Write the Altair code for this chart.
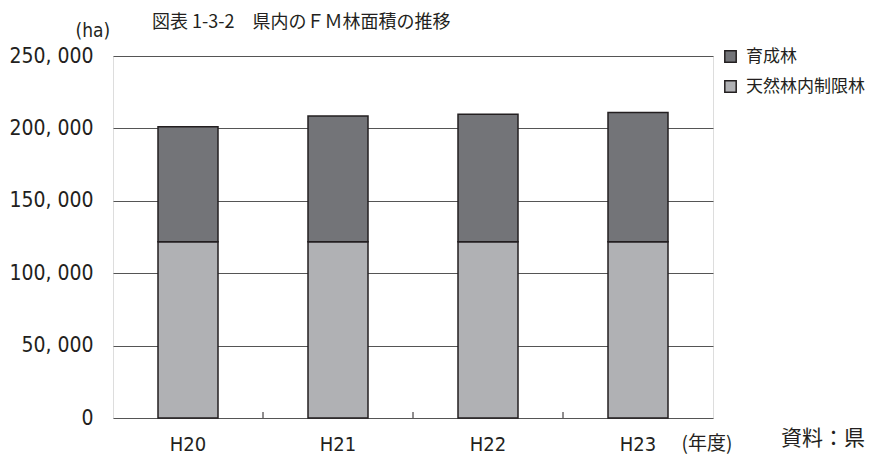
import altair as alt
import pandas as pd

years = ["H20", "H21", "H22", "H23"]
natural = [121700, 121700, 121700, 121700]      # 天然林内制限林
planted = [79500, 86900, 88000, 89200]          # 育成林
series_names = ["育成林", "天然林内制限林"]
colors = ["#737478", "#b0b1b4"]
y_ticks = [0, 50000, 100000, 150000, 200000, 250000]
title_text = "図表 1-3-2　県内のＦＭ林面積の推移"
source_text = "資料：県"

rows = []
for i, yv in enumerate(years):
    rows.append({"year": yv, "kind": "天然林内制限林", "value": natural[i], "ord": 0})
    rows.append({"year": yv, "kind": "育成林", "value": planted[i], "ord": 1})
df = pd.DataFrame(rows)
tick_df = pd.DataFrame({"year": years[:-1]})

NUM_FONT = "Liberation Sans Narrow, DejaVu Sans Condensed, Roboto Condensed, Noto Sans CJK JP"
JP_FONT = "Noto Sans CJK JP"

x_enc = alt.X("year:N", sort=years,
              scale=alt.Scale(paddingInner=0.6, paddingOuter=0.3),
              axis=alt.Axis(title="(年度)", labelAngle=0, ticks=False, domain=False,
                            labelFont=NUM_FONT, labelFontSize=20, labelColor="#231f20",
                            labelPadding=16, titleFont=JP_FONT, titleFontSize=19,
                            titleFontWeight="normal", titleColor="#231f20",
                            titleAnchor="start", titleAlign="left", titleX=568, titleY=31,
                            titleBaseline="alphabetic", grid=False))

bars = alt.Chart(df).mark_bar(stroke="#231f20", strokeWidth=1.5).encode(
    x=x_enc,
    y=alt.Y("value:Q", stack="zero",
            scale=alt.Scale(domain=[0, 250000], nice=False),
            axis=alt.Axis(values=y_ticks, title="(ha)", titleAngle=0,
                          titleX=-38, titleY=-20, titleAlign="left",
                          titleBaseline="alphabetic", titleFont=NUM_FONT,
                          titleFontSize=19, titleFontWeight="normal", titleColor="#231f20",
                          labelExpr="replace(format(datum.value, ','), ',', ', ')",
                          labelFont=NUM_FONT, labelFontSize=21, labelColor="#231f20",
                          labelPadding=20, ticks=False, domain=False,
                          grid=True, gridColor="#555555", gridWidth=1)),
    color=alt.Color("kind:N", scale=alt.Scale(domain=series_names, range=colors),
                    legend=alt.Legend(title=None, orient="none", legendX=609, legendY=-8,
                                      symbolType="square", symbolSize=130,
                                      symbolStrokeColor="#231f20", symbolStrokeWidth=1.5,
                                      labelFont=JP_FONT, labelFontSize=17,
                                      labelColor="#231f20", labelOffset=7,
                                      rowPadding=11, padding=0)),
    order=alt.Order("ord:Q"),
)

ticks = alt.Chart(tick_df).mark_rule(color="#231f20", strokeWidth=1, xOffset=75).encode(
    x=alt.X("year:N", sort=years),
    y=alt.value(362),
    y2=alt.value(356),
)

title = alt.Chart(pd.DataFrame({"t": [title_text]})).mark_text(
    font=JP_FONT, fontSize=18, align="left", baseline="alphabetic", color="#231f20"
).encode(text="t:N", x=alt.value(39), y=alt.value(-28))

source = alt.Chart(pd.DataFrame({"t": [source_text]})).mark_text(
    font=JP_FONT, fontSize=21, align="left", baseline="alphabetic", color="#231f20"
).encode(text="t:N", x=alt.value(668), y=alt.value(389))

chart = alt.layer(bars, ticks, title, source).properties(
    width=600, height=362,
    autosize=alt.AutoSizeParams(type="none"),
    padding={"left": 105, "top": 48, "right": 165, "bottom": 36},
).configure_view(stroke="#231f20", strokeWidth=1.5).configure(background="white")

chart.save("out.html", embed_options={"renderer": "svg", "actions": False})
